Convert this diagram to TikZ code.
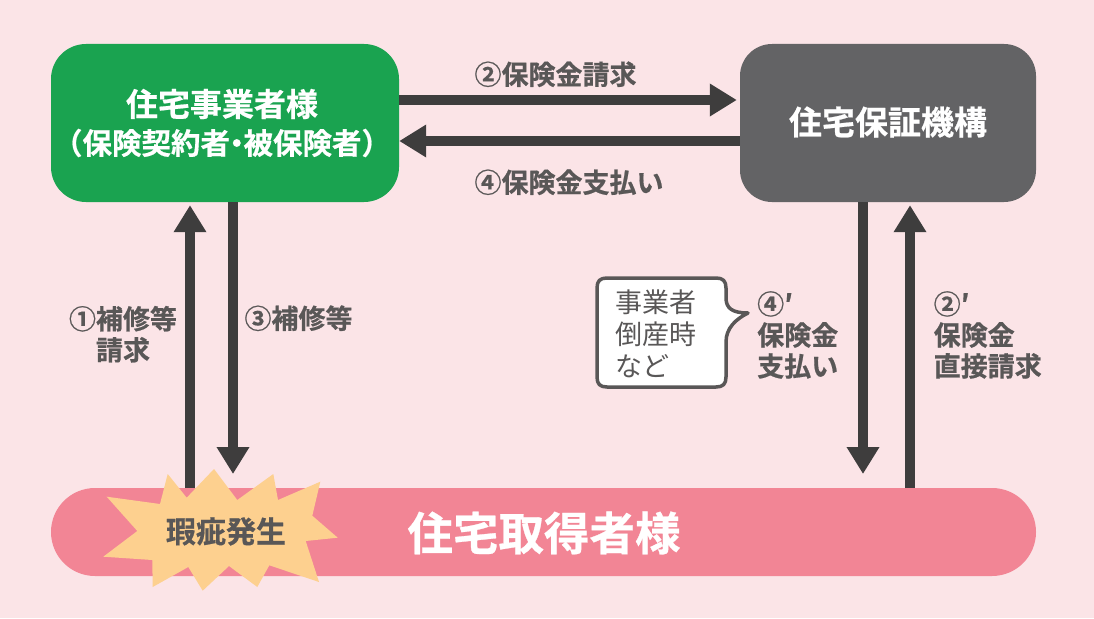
\documentclass[tikz,border=0pt]{standalone}
\usepackage{fontspec}
\setmainfont{Noto Sans CJK JP}[BoldFont={Noto Sans CJK JP Bold},BoldFeatures={FakeBold=0.6}]
\usetikzlibrary{arrows.meta}
\definecolor{bg}{HTML}{FBE4E7}
\definecolor{grn}{HTML}{1AA350}
\definecolor{gry}{HTML}{636365}
\definecolor{pnk}{HTML}{F28595}
\definecolor{org}{HTML}{FDD08F}
\definecolor{drk}{HTML}{3E3D3D}
\definecolor{txt}{HTML}{595757}
\tikzset{
  x=1pt,y=-1pt,
  flow/.style={drk,line width=10pt,-{Triangle[length=27pt,width=31pt]}},
  lab/.style={txt,font=\bfseries\fontsize{27}{31}\selectfont,inner sep=0pt,align=left,text depth=0pt},
  party/.style={inner sep=0pt,align=center,white,font=\bfseries},
}
\begin{document}
\begin{tikzpicture}
\useasboundingbox (0,0) rectangle (1094,618);
\fill[bg] (0,0) rectangle (1094,618);
% main boxes
\node[party,fill=grn,rounded corners=35pt,minimum width=348pt,minimum height=158pt] (jig) at (225,123) {};
\node[party,fill=gry,rounded corners=32pt,minimum width=296pt,minimum height=158pt] (kikou) at (888,123) {};
\node[party,font=\bfseries\fontsize{33}{36}\selectfont] (kikoulab) at (888,122) {住宅保証機構};
\node[party,fill=pnk,rounded corners=44pt,minimum width=985pt,minimum height=88pt] (owner) at (543.5,532) {};
\node[party,font=\bfseries\fontsize{45.5}{50}\selectfont] (ownerlab) at (544,533) {住宅取得者様};
\node[party,font=\bfseries\fontsize{32}{36}\selectfont] (jig1) at (222,104) {住宅事業者様};
\node[party,font=\bfseries\fontsize{29.5}{32}\selectfont] (jig2) at (222,143) {（保険契約者\kern-8pt・\kern-8pt 被保険者）};
% connectors
\coordinate (a1) at (190,488); \coordinate (a2) at (233,474);
\coordinate (a3) at (863,474); \coordinate (a4) at (910,488);
\draw[flow,shorten >=3pt] (a1) -- (a1 |- jig.south);
\draw[flow] (a2 |- jig.south) -- (a2);
\draw[flow] (a3 |- kikou.south) -- (a3);
\draw[flow,shorten >=3pt] (a4) -- (a4 |- kikou.south);
\draw[flow,shorten >=3pt] (jig.east |- 0,100) -- (kikou.west |- 0,100);
\draw[flow] (kikou.west |- 0,141) -- (jig.east |- 0,141);
% burst
\fill[org] (106.7,496.7)--(160,504)--(167.7,474)--(186.7,497.7)--(214,469)--(237.3,500)--(273.3,474)--(278,500)--(320.3,481.7)--(312.3,515.7)--(337.7,537.7)--(305.7,541)--(319,582)--(269.3,565.3)--(257.3,587)--(229,566)--(202.7,590.7)--(188.3,567)--(152.7,587)--(152.3,560)--(103.3,556.7)--(137.3,531)--cycle;
\node[lab,font=\bfseries\fontsize{30}{33}\selectfont] (kashi) at (226,530) {瑕疵発生};
% labels
\node[lab] (l2) at (555.5,73) {②保険金請求};
\node[lab] (l4) at (569,181) {④保険金支払い};
\node[lab,align=center] (l1) at (123,333) {①補修等\\請求};
\node[lab] (l3) at (298.5,317) {③補修等};
\node[lab,anchor=north west] (l4d) at (757,291) {④′\\保険金\\支払い};
\node[lab,anchor=north west] (l2d) at (933.5,291) {②′\\保険金\\直接請求};
% callout
\draw[txt,line width=3.5pt,fill=white,line join=round]
  (609,278) -- (716,278) .. controls (723,278) and (726,281) .. (726,288)
  -- (726,298) .. controls (726,308) and (732,313) .. (748,313)
  .. controls (736,319) and (726,328) .. (726,342)
  -- (726,377) .. controls (726,384) and (723,387) .. (716,387)
  -- (607,387) .. controls (600,387) and (597,384) .. (597,377)
  -- (597,288) .. controls (597,281) and (600,278) .. (607,278) -- cycle;
\node[txt,inner sep=0pt,align=left,font=\fontsize{27}{32}\selectfont] (note) at (655.5,334) {事業者\\倒産時\\など};
\end{tikzpicture}
\end{document}
